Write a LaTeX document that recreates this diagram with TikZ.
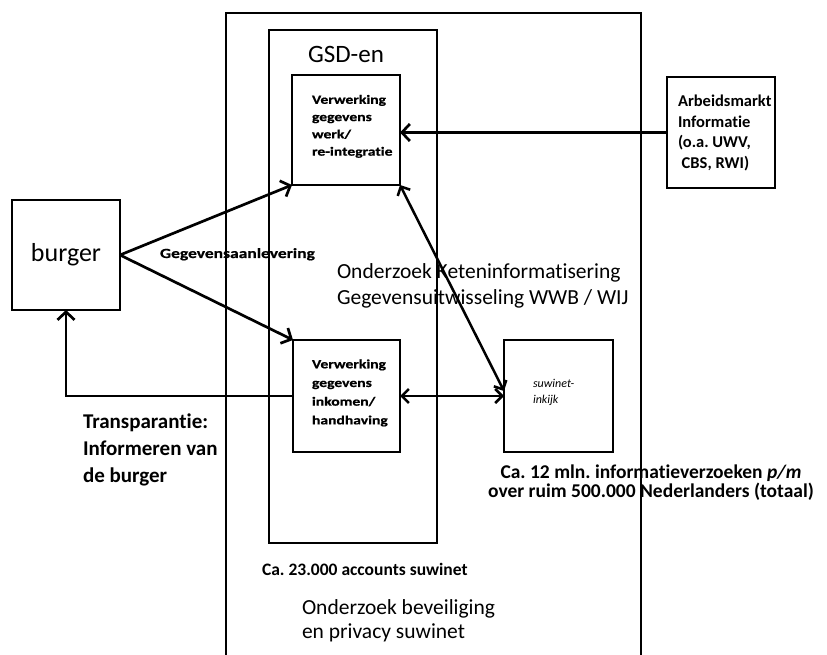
\documentclass[tikz,border=0pt]{standalone}
\usepackage{fontspec}
\setmainfont[Ligatures={NoCommon}]{Carlito}
\newfontfamily\widefont[FakeStretch=1.25,FakeBold=0.8,Ligatures={NoCommon}]{Carlito}
\usetikzlibrary{arrows.meta}
\frenchspacing
\begin{document}
\begin{tikzpicture}[x=1pt,y=-1pt,
  box/.style={draw, line width=2.7pt, inner sep=0pt, outer sep=0pt},
  frame/.style={draw, line width=2pt},
  conn/.style={line width=2.7pt, -{Straight Barb[length=8pt,width=17pt]}},
  dconn/.style={line width=2.5pt, {Straight Barb[length=7pt,width=14pt]}-{Straight Barb[length=7pt,width=14pt]}},
  txt/.style={inner sep=0pt, outer sep=0pt},
  boxtext/.style={txt, anchor=north west, align=left},
]
\useasboundingbox (0,0) rectangle (827,655);
% outer frame, open at the bottom
\draw[frame] (226,655) -- (226,13) -- (641,13) -- (641,655);
% GSD-en frame
\node[frame, inner sep=0pt, minimum width=168pt, minimum height=513pt] (gsd) at (353,286.5) {};
\node[txt, anchor=base] (gsdlabel) at (346,63) {\fontsize{25}{30}\selectfont GSD-en};
% boxes
\node[box, minimum width=108pt, minimum height=110pt, font=\fontsize{26}{30}\selectfont] (burger) at (66,255) {burger};
\node[box, minimum width=108pt, minimum height=110pt] (v1) at (346,130) {};
\node[box, minimum width=107pt, minimum height=112pt] (v2) at (346.5,396) {};
\node[box, minimum width=109pt, minimum height=112pt] (sw) at (558.5,396) {};
\node[box, minimum width=108pt, minimum height=111pt] (arb) at (721,132.5) {};
% box texts
\node[boxtext, font=\widefont\bfseries\fontsize{12.5}{17.3}\selectfont] (v1text) at (312,95) {Verwerking\\gegevens\\werk/\\re-integratie};
\node[boxtext, font=\widefont\bfseries\fontsize{12.5}{18.7}\selectfont] (v2text) at (312,359.5) {Verwerking\\gegevens\\inkomen/\\handhaving};
\node[boxtext, font=\itshape\fontsize{12}{16}\selectfont] (swtext) at (533,379.5) {suwinet-\\inkijk};
\node[boxtext, font=\bfseries\fontsize{16.5}{20.6}\selectfont] (arbtext) at (678,95) {Arbeidsmarkt\\Informatie\\(o.a. UWV,\\\ CBS, RWI)};
% connectors
\draw[conn] (burger.east) -- (v1.south west);
\draw[conn] (burger.east) -- (v2.north west);
\draw[conn] (arb.west) -- (v1.east |- arb.west);
\draw[dconn] (v1.south east) -- ([yshift=5pt]sw.west);
\draw[dconn] (v2.east) -- (v2.east -| sw.west);
\draw[conn] (v2.west) -- (burger.south |- v2.west) -- (burger.south);
% labels
\node[txt, anchor=base west, font=\widefont\bfseries\fontsize{14}{17}\selectfont] (geg) at (160,258) {Gegevensaanlevering};
\node[boxtext, font=\fontsize{21.5}{26}\selectfont] (keten) at (337,263.5) {Onderzoek Keteninformatisering\\Gegevensuitwisseling WWB / WIJ};
\node[boxtext, font=\bfseries\fontsize{21}{27}\selectfont] (transp) at (83,414) {Transparantie:\\Informeren van\\de burger};
\node[txt, anchor=north, align=center, font=\bfseries\fontsize{19.5}{19}\selectfont] (verz) at (651,464.5) {Ca. 12 mln. informatieverzoeken \textit{p/m}\\over ruim 500.000 Nederlanders (totaal)};
\node[txt, anchor=base west, font=\bfseries\fontsize{17.5}{21}\selectfont] (accounts) at (262,575) {Ca. 23.000 accounts suwinet};
\node[boxtext, font=\fontsize{21.5}{24.5}\selectfont] (bev) at (302,599.5) {Onderzoek beveiliging\\en privacy suwinet};
\end{tikzpicture}
\end{document}
